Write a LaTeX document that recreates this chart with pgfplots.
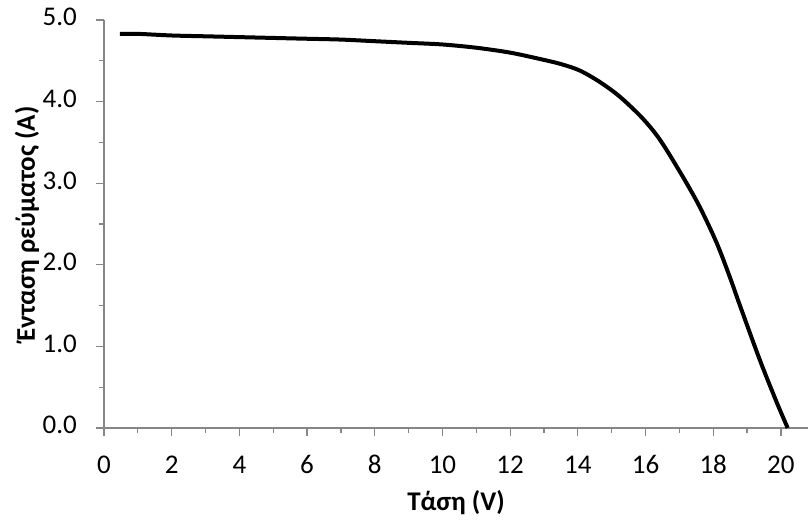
\documentclass[border=0pt]{standalone}
\usepackage{pgfplots}
\pgfplotsset{compat=1.18}
\usepackage{fontspec}
\setmainfont{Carlito}
\definecolor{axgray}{RGB}{134,134,134}
\begin{document}
\begin{tikzpicture}
\begin{axis}[
  scale only axis,
  width=352pt, height=204pt,
  xmin=0, xmax=20.8, ymin=0, ymax=5,
  axis lines*=left,
  axis line style={axgray, line width=0.6pt, -},
  every tick/.style={axgray, line width=0.6pt},
  tick align=outside,
  major tick length=4pt, minor tick length=2.6pt,
  xtick={0,2,...,20}, minor xtick={1,3,...,19},
  ytick={0,1,...,5}, minor ytick={0.5,1.5,...,4.5},
  /pgf/number format/assume math mode=true,
  typeset ticklabels with strut,
  yticklabel style={xshift=-6pt, /pgf/number format/.cd, fixed, fixed zerofill, precision=1},
  xticklabel style={yshift=-4.5pt},
  ticklabel style={font=\fontsize{13.5}{15}\selectfont, black},
  xlabel={\textbf{Τάση (V)}},
  ylabel={\textbf{Ένταση ρεύματος (A)}},
  label style={font=\fontsize{13.5}{15}\selectfont},
  xlabel style={at={([yshift=-37.5pt]rel axis cs:0.5,0)}, anchor=center},
  ylabel style={at={([xshift=-38.5pt]rel axis cs:0,0.5)}, anchor=center},
  clip=false,
]
\addplot[black, line width=2pt, smooth, tension=0.5] coordinates {
(0.47,4.83) (1,4.83) (2,4.81) (3,4.80) (4,4.79) (5,4.78) (6,4.77) (7,4.76) (8,4.74) (9,4.72) (10,4.70) (11,4.66) (12,4.60) (12.9,4.52) (13.5,4.46) (14.06,4.38) (14.65,4.24) (15.24,4.06) (15.9,3.80) (16.43,3.53) (17.1,3.08) (17.6,2.71) (18.1,2.27) (18.49,1.85) (18.79,1.50) (19.38,0.83) (19.88,0.31) (20.2,0.0)
};
\coordinate (bl) at (rel axis cs:0,0);
\coordinate (tr) at (rel axis cs:1,1);
\end{axis}
\pgfresetboundingbox
\path[use as bounding box] ([xshift=-52pt,yshift=-46pt]bl) rectangle ([yshift=10pt]tr);
\end{tikzpicture}
\end{document}
